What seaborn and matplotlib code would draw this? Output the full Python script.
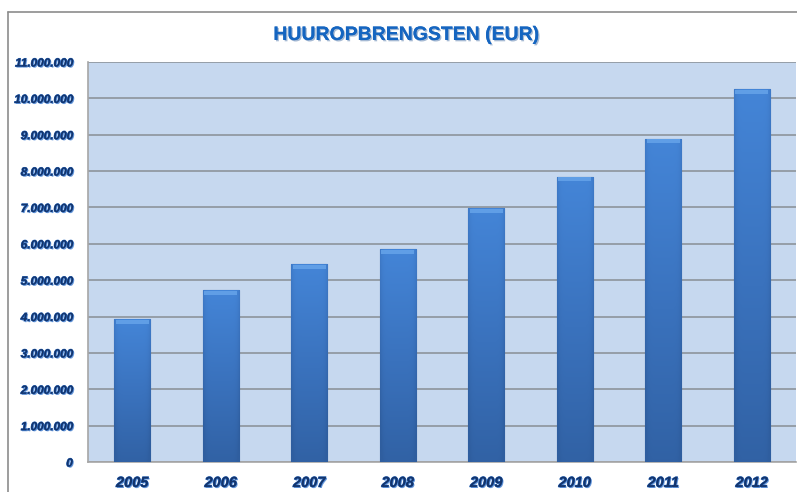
import numpy as np
import pandas as pd
import matplotlib
matplotlib.use('Agg')
import matplotlib.pyplot as plt
import matplotlib.patheffects as pe
from matplotlib.colors import LinearSegmentedColormap
from matplotlib.lines import Line2D
import seaborn as sns

# %% Data
years = ['2005', '2006', '2007', '2008', '2009', '2010', '2011', '2012']
huur = [3930000, 4730000, 5450000, 5860000, 6990000, 7850000, 8890000, 10250000]
y_ticks = list(range(0, 11000001, 1000000))
title = 'HUUROPBRENGSTEN (EUR)'

df = pd.DataFrame({'jaar': years, 'huur': huur})

# %% Style
sns.set_style('white')
plt.rcParams['font.family'] = ['Liberation Sans Narrow', 'Liberation Sans', 'DejaVu Sans']

fig = plt.figure(figsize=(7.97, 4.92), dpi=100)
ax = fig.add_axes([88 / 797, 30 / 492, 708 / 797, 400 / 492])
ax.set_facecolor('#c6d8ef')

sns.barplot(data=df, x='jaar', y='huur', color='#3f7fd0', width=0.41, ax=ax,
            saturation=1, zorder=3)

# gradient fill clipped to each bar
grad_cmap = LinearSegmentedColormap.from_list('bar', ['#2f5e9f', '#3a72bd', '#4587da'])
for p in ax.patches:
    x0, y0 = p.get_x(), p.get_y()
    w, h = p.get_width(), p.get_height()
    v = np.linspace(0, 1, 100)[:, None]
    hz = np.linspace(-1, 1, 40)[None, :]
    g = v * 0.85 + 0.1 - 0.25 * hz ** 8
    im = ax.imshow(g, cmap=grad_cmap, vmin=0, vmax=1, origin='lower', aspect='auto',
                   extent=(x0, x0 + w, y0, y0 + h), zorder=4)
    im.set_clip_path(p)
    p.set_edgecolor('#2b5590')
    p.set_linewidth(0.8)
    # top bevel
    ax.fill_between([x0 + w * 0.04, x0 + w * 0.96], y0 + h - 130000, y0 + h - 20000,
                    color='#64a2e8', alpha=0.9, zorder=5, lw=0)

ax.set_xlim(-0.5, len(years) - 0.5)
ax.set_ylim(0, 11000000)
ax.set_yticks(y_ticks)
ax.set_yticklabels(['{:,}'.format(t).replace(',', '.') for t in y_ticks])
ax.set_xticks(np.arange(-0.5, len(years), 1), minor=True)
ax.grid(axis='y', color='#8d949c', lw=1.2, zorder=1)
ax.set_axisbelow(True)
ax.set_xlabel('')
ax.set_ylabel('')

for s in ['top', 'right']:
    ax.spines[s].set_visible(False)
for s in ['left', 'bottom']:
    ax.spines[s].set_color('#a6a6a6')
    ax.spines[s].set_linewidth(1.2)

ax.tick_params(axis='x', which='major', length=0, pad=10)
ax.tick_params(axis='x', which='minor', length=5, color='#a6a6a6', width=1)
ax.tick_params(axis='y', length=5, color='#a6a6a6', width=1, pad=6)

lbl_fx = [pe.withSimplePatchShadow(offset=(0.8, -0.8), shadow_rgbFace='#5b8fd6', alpha=0.9),
          pe.Stroke(linewidth=0.6, foreground='#2a6ac0'), pe.Normal()]
for t in ax.get_xticklabels() + ax.get_yticklabels():
    t.set_fontweight('bold')
    t.set_fontstyle('italic')
    t.set_color('#14346b')
    t.set_path_effects(lbl_fx)
for t in ax.get_yticklabels():
    t.set_fontsize(8.5)
for t in ax.get_xticklabels():
    t.set_fontsize(10.5)

fig.text(0.51, 0.928, title, ha='center', va='center', fontsize=14, fontweight='bold',
         color='#1565c0',
         path_effects=[pe.withSimplePatchShadow(offset=(1, -1), shadow_rgbFace='#8fa8c8', alpha=0.8),
                       pe.Normal()])

# chart border
fig.add_artist(Line2D([8 / 797, 1.0], [1 - 12 / 492, 1 - 12 / 492], color='#8c8c8c', lw=1.2))
fig.add_artist(Line2D([8 / 797, 8 / 797], [0, 1 - 12 / 492], color='#8c8c8c', lw=1.2))

fig.savefig('out.png', dpi=100)
